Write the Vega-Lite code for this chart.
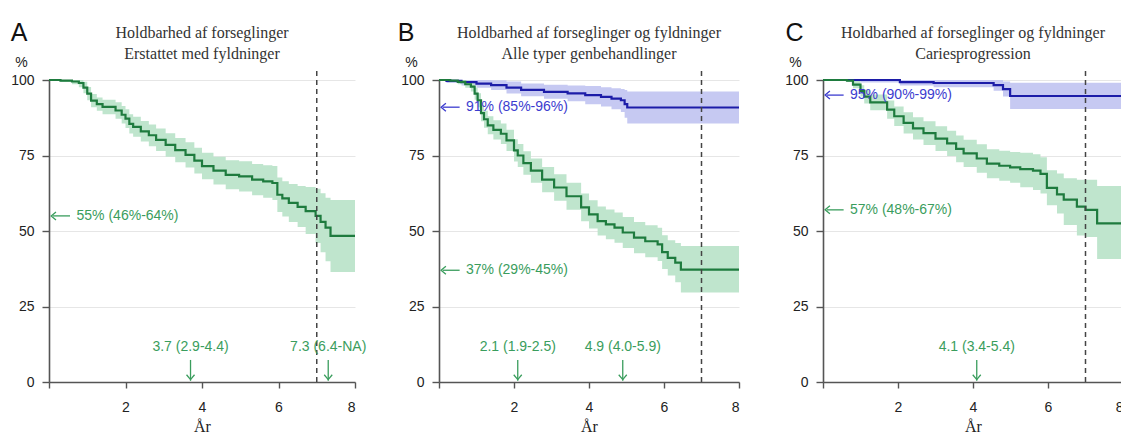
{
  "$schema": "https://vega.github.io/schema/vega-lite/v6.json",
  "padding": {"left": 10, "top": 20, "right": 0, "bottom": 0},
  "background": "white",
  "bounds": "flush",
  "spacing": 84,
  "config": {
    "view": {"stroke": null},
    "axis": {"domainColor": "#555", "domainWidth": 1.6, "tickColor": "#555", "tickWidth": 1.4, "tickSize": 7, "labelFont": "Liberation Sans", "labelFontSize": 14, "labelColor": "#222", "labelPadding": 8, "labelOverlap": false, "titleFont": "Liberation Sans", "titleFontSize": 14, "titleFontWeight": "normal", "titleColor": "#222"},
    "axisX": {"grid": false, "tickSize": 6, "labelPadding": 12, "titleFont": "Liberation Serif", "titleFontSize": 16, "titlePadding": 4},
    "title": {"font": "Liberation Serif", "fontSize": 16, "fontWeight": "normal", "color": "#333", "lineHeight": 21, "offset": -41, "anchor": "middle", "frame": "group"}
  },
  "datasets": {
    "panels": [
      {"p": "A", "letter": "A", "cut": 7},
      {"p": "B", "letter": "B", "cut": 7},
      {"p": "C", "letter": "C", "cut": 7}
    ],
    "left": [
      {"p": "A", "g": "fyld", "s": 55, "label": "55% (46%-64%)"},
      {"p": "B", "g": "fors", "s": 91, "label": "91% (85%-96%)"},
      {"p": "B", "g": "fyld", "s": 37, "label": "37% (29%-45%)"},
      {"p": "C", "g": "fors", "s": 95, "label": "95% (90%-99%)"},
      {"p": "C", "g": "fyld", "s": 57, "label": "57% (48%-67%)"}
    ],
    "med": [
      {"p": "A", "t": 3.7, "label": "3.7 (2.9-4.4)"},
      {"p": "A", "t": 7.3, "label": "7.3 (6.4-NA)"},
      {"p": "B", "t": 2.1, "label": "2.1 (1.9-2.5)"},
      {"p": "B", "t": 4.9, "label": "4.9 (4.0-5.9)"},
      {"p": "C", "t": 4.1, "label": "4.1 (3.4-5.4)"}
    ],
    "km": [
      {"p": "A", "g": "fyld", "t": 0, "s": 100, "lo": 100, "hi": 100},
      {"p": "A", "g": "fyld", "t": 0.3, "s": 99.8, "lo": 99.3, "hi": 100},
      {"p": "A", "g": "fyld", "t": 0.6, "s": 99.5, "lo": 98.6, "hi": 100},
      {"p": "A", "g": "fyld", "t": 0.78, "s": 99, "lo": 97.6, "hi": 100},
      {"p": "A", "g": "fyld", "t": 0.9, "s": 97.5, "lo": 95.6, "hi": 99.4},
      {"p": "A", "g": "fyld", "t": 1.0, "s": 95.5, "lo": 93.3, "hi": 97.7},
      {"p": "A", "g": "fyld", "t": 1.1, "s": 93.2, "lo": 91, "hi": 95.4},
      {"p": "A", "g": "fyld", "t": 1.25, "s": 92, "lo": 89.8, "hi": 94.2},
      {"p": "A", "g": "fyld", "t": 1.4, "s": 91.1, "lo": 88.7, "hi": 93.5},
      {"p": "A", "g": "fyld", "t": 1.74, "s": 89.9, "lo": 87.2, "hi": 92.6},
      {"p": "A", "g": "fyld", "t": 1.9, "s": 88.5, "lo": 85.6, "hi": 91.4},
      {"p": "A", "g": "fyld", "t": 2.0, "s": 87.2, "lo": 84.1, "hi": 90.3},
      {"p": "A", "g": "fyld", "t": 2.1, "s": 85.5, "lo": 82.3, "hi": 88.7},
      {"p": "A", "g": "fyld", "t": 2.2, "s": 84.5, "lo": 81.2, "hi": 87.8},
      {"p": "A", "g": "fyld", "t": 2.4, "s": 83, "lo": 79.6, "hi": 86.4},
      {"p": "A", "g": "fyld", "t": 2.61, "s": 81.7, "lo": 78.1, "hi": 85.3},
      {"p": "A", "g": "fyld", "t": 2.8, "s": 80.2, "lo": 76.5, "hi": 83.9},
      {"p": "A", "g": "fyld", "t": 3.05, "s": 78.5, "lo": 74.6, "hi": 82.4},
      {"p": "A", "g": "fyld", "t": 3.3, "s": 76.8, "lo": 72.8, "hi": 80.8},
      {"p": "A", "g": "fyld", "t": 3.57, "s": 75.2, "lo": 71, "hi": 79.4},
      {"p": "A", "g": "fyld", "t": 3.8, "s": 73.3, "lo": 69, "hi": 77.6},
      {"p": "A", "g": "fyld", "t": 4.0, "s": 71.5, "lo": 67.1, "hi": 75.9},
      {"p": "A", "g": "fyld", "t": 4.3, "s": 70, "lo": 65.4, "hi": 74.6},
      {"p": "A", "g": "fyld", "t": 4.62, "s": 68.6, "lo": 63.8, "hi": 73.4},
      {"p": "A", "g": "fyld", "t": 4.97, "s": 68.1, "lo": 63.1, "hi": 73.1},
      {"p": "A", "g": "fyld", "t": 5.31, "s": 67, "lo": 61.8, "hi": 72.2},
      {"p": "A", "g": "fyld", "t": 5.6, "s": 66.4, "lo": 61, "hi": 71.8},
      {"p": "A", "g": "fyld", "t": 5.84, "s": 65.9, "lo": 60.3, "hi": 71.5},
      {"p": "A", "g": "fyld", "t": 5.97, "s": 62, "lo": 56.3, "hi": 67.7},
      {"p": "A", "g": "fyld", "t": 6.1, "s": 60.8, "lo": 54.8, "hi": 66.5},
      {"p": "A", "g": "fyld", "t": 6.27, "s": 59.3, "lo": 53, "hi": 65.6},
      {"p": "A", "g": "fyld", "t": 6.5, "s": 58, "lo": 51.3, "hi": 64.9},
      {"p": "A", "g": "fyld", "t": 6.71, "s": 56.6, "lo": 49, "hi": 64.6},
      {"p": "A", "g": "fyld", "t": 6.97, "s": 55, "lo": 46, "hi": 64},
      {"p": "A", "g": "fyld", "t": 7.1, "s": 53, "lo": 43, "hi": 62.5},
      {"p": "A", "g": "fyld", "t": 7.23, "s": 51.1, "lo": 40, "hi": 61},
      {"p": "A", "g": "fyld", "t": 7.36, "s": 48.4, "lo": 36.4, "hi": 60.3},
      {"p": "A", "g": "fyld", "t": 8, "s": 48.4, "lo": 36.4, "hi": 60.3},

      {"p": "B", "g": "fors", "t": 0, "s": 100, "lo": 100, "hi": 100},
      {"p": "B", "g": "fors", "t": 0.2, "s": 99.7, "lo": 99, "hi": 100},
      {"p": "B", "g": "fors", "t": 0.6, "s": 99.3, "lo": 98.2, "hi": 100},
      {"p": "B", "g": "fors", "t": 1.0, "s": 98.8, "lo": 97.4, "hi": 100},
      {"p": "B", "g": "fors", "t": 1.39, "s": 98.3, "lo": 96.7, "hi": 99.9},
      {"p": "B", "g": "fors", "t": 1.8, "s": 97.5, "lo": 95.5, "hi": 99.5},
      {"p": "B", "g": "fors", "t": 2.19, "s": 96.7, "lo": 94.6, "hi": 98.8},
      {"p": "B", "g": "fors", "t": 2.8, "s": 96.1, "lo": 93.8, "hi": 98.4},
      {"p": "B", "g": "fors", "t": 3.43, "s": 95.6, "lo": 93, "hi": 98.2},
      {"p": "B", "g": "fors", "t": 3.9, "s": 95, "lo": 92, "hi": 98},
      {"p": "B", "g": "fors", "t": 4.32, "s": 94.4, "lo": 91.2, "hi": 97.6},
      {"p": "B", "g": "fors", "t": 4.6, "s": 93.8, "lo": 90.3, "hi": 97.3},
      {"p": "B", "g": "fors", "t": 4.85, "s": 93.3, "lo": 89.4, "hi": 97},
      {"p": "B", "g": "fors", "t": 4.95, "s": 92, "lo": 87.5, "hi": 96.7},
      {"p": "B", "g": "fors", "t": 5.02, "s": 90.9, "lo": 85.6, "hi": 96.2},
      {"p": "B", "g": "fors", "t": 8, "s": 90.9, "lo": 85.6, "hi": 96.2},

      {"p": "B", "g": "fyld", "t": 0, "s": 100, "lo": 100, "hi": 100},
      {"p": "B", "g": "fyld", "t": 0.3, "s": 99.8, "lo": 99.4, "hi": 100},
      {"p": "B", "g": "fyld", "t": 0.5, "s": 99.4, "lo": 98.6, "hi": 100},
      {"p": "B", "g": "fyld", "t": 0.7, "s": 98.6, "lo": 97.4, "hi": 99.8},
      {"p": "B", "g": "fyld", "t": 0.85, "s": 97.8, "lo": 96.2, "hi": 99.4},
      {"p": "B", "g": "fyld", "t": 0.95, "s": 95.5, "lo": 93.5, "hi": 97.5},
      {"p": "B", "g": "fyld", "t": 1.03, "s": 93.3, "lo": 91, "hi": 95.6},
      {"p": "B", "g": "fyld", "t": 1.12, "s": 89, "lo": 86.3, "hi": 91.7},
      {"p": "B", "g": "fyld", "t": 1.2, "s": 87, "lo": 84.2, "hi": 89.8},
      {"p": "B", "g": "fyld", "t": 1.3, "s": 85, "lo": 82, "hi": 88},
      {"p": "B", "g": "fyld", "t": 1.45, "s": 83.5, "lo": 80.3, "hi": 86.7},
      {"p": "B", "g": "fyld", "t": 1.65, "s": 82.2, "lo": 78.8, "hi": 85.6},
      {"p": "B", "g": "fyld", "t": 1.8, "s": 80, "lo": 76.5, "hi": 83.5},
      {"p": "B", "g": "fyld", "t": 2.0, "s": 76.7, "lo": 73, "hi": 80.4},
      {"p": "B", "g": "fyld", "t": 2.1, "s": 75, "lo": 71.2, "hi": 78.8},
      {"p": "B", "g": "fyld", "t": 2.25, "s": 72.5, "lo": 68.6, "hi": 76.4},
      {"p": "B", "g": "fyld", "t": 2.45, "s": 70, "lo": 66, "hi": 74},
      {"p": "B", "g": "fyld", "t": 2.75, "s": 67, "lo": 62.8, "hi": 71.2},
      {"p": "B", "g": "fyld", "t": 3.07, "s": 64.4, "lo": 60, "hi": 68.8},
      {"p": "B", "g": "fyld", "t": 3.4, "s": 61.5, "lo": 57, "hi": 66},
      {"p": "B", "g": "fyld", "t": 3.79, "s": 57.8, "lo": 53.2, "hi": 62.4},
      {"p": "B", "g": "fyld", "t": 4.0, "s": 55.5, "lo": 50.8, "hi": 60.2},
      {"p": "B", "g": "fyld", "t": 4.23, "s": 53.3, "lo": 48.5, "hi": 58.1},
      {"p": "B", "g": "fyld", "t": 4.45, "s": 52.2, "lo": 47.3, "hi": 57.1},
      {"p": "B", "g": "fyld", "t": 4.68, "s": 51.1, "lo": 46.1, "hi": 56.1},
      {"p": "B", "g": "fyld", "t": 4.9, "s": 49.5, "lo": 44.4, "hi": 54.6},
      {"p": "B", "g": "fyld", "t": 5.2, "s": 47.8, "lo": 42.6, "hi": 53},
      {"p": "B", "g": "fyld", "t": 5.5, "s": 46.6, "lo": 41.3, "hi": 51.9},
      {"p": "B", "g": "fyld", "t": 5.83, "s": 45.6, "lo": 40.1, "hi": 51.1},
      {"p": "B", "g": "fyld", "t": 5.95, "s": 43, "lo": 37.4, "hi": 48.6},
      {"p": "B", "g": "fyld", "t": 6.1, "s": 41.1, "lo": 35.3, "hi": 46.9},
      {"p": "B", "g": "fyld", "t": 6.3, "s": 39.5, "lo": 33, "hi": 46},
      {"p": "B", "g": "fyld", "t": 6.45, "s": 37.2, "lo": 29.6, "hi": 45},
      {"p": "B", "g": "fyld", "t": 8, "s": 37.2, "lo": 29.6, "hi": 45},

      {"p": "C", "g": "fors", "t": 0, "s": 100, "lo": 100, "hi": 100},
      {"p": "C", "g": "fors", "t": 1.0, "s": 100, "lo": 99.2, "hi": 100},
      {"p": "C", "g": "fors", "t": 2.05, "s": 99.3, "lo": 98.2, "hi": 100},
      {"p": "C", "g": "fors", "t": 2.95, "s": 99, "lo": 97.6, "hi": 100},
      {"p": "C", "g": "fors", "t": 4.55, "s": 98.3, "lo": 96.4, "hi": 100},
      {"p": "C", "g": "fors", "t": 4.8, "s": 97, "lo": 94.5, "hi": 99.5},
      {"p": "C", "g": "fors", "t": 4.99, "s": 94.7, "lo": 90.4, "hi": 99.1},
      {"p": "C", "g": "fors", "t": 8, "s": 94.7, "lo": 90.4, "hi": 99.1},

      {"p": "C", "g": "fyld", "t": 0, "s": 100, "lo": 100, "hi": 100},
      {"p": "C", "g": "fyld", "t": 0.64, "s": 99.8, "lo": 99.3, "hi": 100},
      {"p": "C", "g": "fyld", "t": 0.8, "s": 98.5, "lo": 97.3, "hi": 99.7},
      {"p": "C", "g": "fyld", "t": 1.0, "s": 96.4, "lo": 94.5, "hi": 98.3},
      {"p": "C", "g": "fyld", "t": 1.1, "s": 94.5, "lo": 92.2, "hi": 96.8},
      {"p": "C", "g": "fyld", "t": 1.26, "s": 92.6, "lo": 90, "hi": 95.2},
      {"p": "C", "g": "fyld", "t": 1.71, "s": 90.2, "lo": 87.2, "hi": 93.2},
      {"p": "C", "g": "fyld", "t": 1.9, "s": 88, "lo": 84.8, "hi": 91.2},
      {"p": "C", "g": "fyld", "t": 2.15, "s": 85.8, "lo": 82.3, "hi": 89.3},
      {"p": "C", "g": "fyld", "t": 2.4, "s": 84, "lo": 80.3, "hi": 87.7},
      {"p": "C", "g": "fyld", "t": 2.68, "s": 82.4, "lo": 78.5, "hi": 86.3},
      {"p": "C", "g": "fyld", "t": 3.0, "s": 80.6, "lo": 76.5, "hi": 84.7},
      {"p": "C", "g": "fyld", "t": 3.31, "s": 79, "lo": 74.8, "hi": 83.2},
      {"p": "C", "g": "fyld", "t": 3.55, "s": 77.2, "lo": 72.8, "hi": 81.6},
      {"p": "C", "g": "fyld", "t": 3.75, "s": 75.7, "lo": 71.2, "hi": 80.2},
      {"p": "C", "g": "fyld", "t": 4.1, "s": 74, "lo": 69.3, "hi": 78.7},
      {"p": "C", "g": "fyld", "t": 4.37, "s": 72.3, "lo": 67.5, "hi": 77.1},
      {"p": "C", "g": "fyld", "t": 4.7, "s": 71.6, "lo": 66.6, "hi": 76.6},
      {"p": "C", "g": "fyld", "t": 4.99, "s": 71.1, "lo": 66, "hi": 76.2},
      {"p": "C", "g": "fyld", "t": 5.26, "s": 70.5, "lo": 64.5, "hi": 75.9},
      {"p": "C", "g": "fyld", "t": 5.6, "s": 70, "lo": 63.6, "hi": 75.4},
      {"p": "C", "g": "fyld", "t": 5.8, "s": 68.9, "lo": 62.4, "hi": 74.4},
      {"p": "C", "g": "fyld", "t": 5.97, "s": 64.3, "lo": 58.5, "hi": 70.1},
      {"p": "C", "g": "fyld", "t": 6.24, "s": 62.1, "lo": 55.8, "hi": 69},
      {"p": "C", "g": "fyld", "t": 6.42, "s": 60.4, "lo": 52, "hi": 67.5},
      {"p": "C", "g": "fyld", "t": 6.77, "s": 58.1, "lo": 48.5, "hi": 67},
      {"p": "C", "g": "fyld", "t": 7.0, "s": 57, "lo": 48, "hi": 67},
      {"p": "C", "g": "fyld", "t": 7.31, "s": 52.5, "lo": 40.7, "hi": 64.9},
      {"p": "C", "g": "fyld", "t": 8, "s": 52.5, "lo": 40.7, "hi": 64.9}
    ]
  },
  "hconcat": [
    {
      "width": 306, "height": 302,
      "title": {"text": ["Holdbarhed af forseglinger", "Erstattet med fyldninger"]},
      "layer": [
        {"data": {"name": "km"}, "transform": [{"filter": "datum.p === 'A'"}],
         "mark": {"type": "area", "interpolate": "step-after"},
         "encoding": {
           "x": {"field": "t", "type": "quantitative", "scale": {"domain": [0, 8], "nice": false}, "axis": {"title": "År", "values": [0, 1, 2, 3, 4, 5, 6, 7, 8], "labelExpr": "datum.value % 2 === 0 && datum.value > 0 ? datum.label : ''"}},
           "y": {"field": "lo", "type": "quantitative", "scale": {"domain": [0, 100], "nice": false}, "axis": {"title": "%", "values": [0, 25, 50, 75, 100], "grid": true, "gridColor": "#e6e6e6", "titleAngle": 0, "titleX": -28, "titleY": -18, "titleAlign": "center", "titleBaseline": "middle"}},
           "y2": {"field": "hi"},
           "fill": {"field": "g", "type": "nominal", "scale": {"domain": ["fors", "fyld"], "range": ["#c6c9f2", "#bfe5cd"]}, "legend": null}
         }},
        {"data": {"name": "km"}, "transform": [{"filter": "datum.p === 'A'"}],
         "mark": {"type": "line", "interpolate": "step-after", "strokeWidth": 2.2},
         "encoding": {
           "x": {"field": "t", "type": "quantitative"},
           "y": {"field": "s", "type": "quantitative"},
           "stroke": {"field": "g", "type": "nominal", "scale": {"domain": ["fors", "fyld"], "range": ["#1c1ca8", "#1e7b3e"]}, "legend": null}
         }},
        {"data": {"name": "panels"}, "transform": [{"filter": "datum.p === 'A'"}],
         "mark": {"type": "rule", "strokeDash": [5, 4], "strokeWidth": 1.5, "color": "#444"},
         "encoding": {"x": {"field": "cut", "type": "quantitative"}, "y": {"datum": 0}, "y2": {"datum": 104}}},
        {"data": {"name": "left"}, "transform": [{"filter": "datum.p === 'A'"}],
         "mark": {"type": "rule", "strokeWidth": 1.3},
         "encoding": {"x": {"datum": 0.1}, "x2": {"datum": 0.55}, "y": {"field": "s", "type": "quantitative"},
           "color": {"field": "g", "type": "nominal", "scale": {"domain": ["fors", "fyld"], "range": ["#3c3ccf", "#3a9d5d"]}, "legend": null}}},
        {"data": {"name": "left"}, "transform": [{"filter": "datum.p === 'A'"}],
         "mark": {"type": "point", "shape": "M0.6,-1L-0.6,0L0.6,1", "filled": false, "size": 64, "strokeWidth": 1.3, "opacity": 1},
         "encoding": {"x": {"datum": 0.12}, "y": {"field": "s", "type": "quantitative"},
           "color": {"field": "g", "type": "nominal", "legend": null}}},
        {"data": {"name": "left"}, "transform": [{"filter": "datum.p === 'A'"}],
         "mark": {"type": "text", "align": "left", "baseline": "middle", "font": "Liberation Sans", "fontSize": 14},
         "encoding": {"x": {"datum": 0.72}, "y": {"field": "s", "type": "quantitative"}, "text": {"field": "label"},
           "color": {"field": "g", "type": "nominal", "legend": null}}},
        {"data": {"name": "med"}, "transform": [{"filter": "datum.p === 'A'"}],
         "mark": {"type": "rule", "strokeWidth": 1.3, "color": "#3a9d5d"},
         "encoding": {"x": {"field": "t", "type": "quantitative"}, "y": {"datum": 0.4}, "y2": {"datum": 7.3}}},
        {"data": {"name": "med"}, "transform": [{"filter": "datum.p === 'A'"}],
         "mark": {"type": "point", "shape": "M-1,-0.6L0,0.6L1,-0.6", "filled": false, "size": 64, "strokeWidth": 1.3, "color": "#3a9d5d", "opacity": 1},
         "encoding": {"x": {"field": "t", "type": "quantitative"}, "y": {"datum": 1.6}}},
        {"data": {"name": "med"}, "transform": [{"filter": "datum.p === 'A'"}],
         "mark": {"type": "text", "align": "center", "baseline": "middle", "font": "Liberation Sans", "fontSize": 14, "color": "#3a9d5d"},
         "encoding": {"x": {"field": "t", "type": "quantitative"}, "y": {"datum": 11.5}, "text": {"field": "label"}}},
        {"data": {"name": "panels"}, "transform": [{"filter": "datum.p === 'A'"}],
         "mark": {"type": "text", "align": "left", "baseline": "alphabetic", "font": "Liberation Sans", "fontSize": 25, "color": "#111"},
         "encoding": {"x": {"datum": -1}, "y": {"datum": 113}, "text": {"field": "letter"}}}
      ]
    },
    {
      "width": 300, "height": 302,
      "title": {"text": ["Holdbarhed af forseglinger og fyldninger", "Alle typer genbehandlinger"]},
      "layer": [
        {"data": {"name": "km"}, "transform": [{"filter": "datum.p === 'B'"}],
         "mark": {"type": "area", "interpolate": "step-after"},
         "encoding": {
           "x": {"field": "t", "type": "quantitative", "scale": {"domain": [0, 8], "nice": false}, "axis": {"title": "År", "values": [0, 1, 2, 3, 4, 5, 6, 7, 8], "labelExpr": "datum.value % 2 === 0 && datum.value > 0 ? datum.label : ''"}},
           "y": {"field": "lo", "type": "quantitative", "scale": {"domain": [0, 100], "nice": false}, "axis": {"title": "%", "values": [0, 25, 50, 75, 100], "grid": true, "gridColor": "#e6e6e6", "titleAngle": 0, "titleX": -28, "titleY": -18, "titleAlign": "center", "titleBaseline": "middle"}},
           "y2": {"field": "hi"},
           "fill": {"field": "g", "type": "nominal", "scale": {"domain": ["fors", "fyld"], "range": ["#c6c9f2", "#bfe5cd"]}, "legend": null}
         }},
        {"data": {"name": "km"}, "transform": [{"filter": "datum.p === 'B'"}],
         "mark": {"type": "line", "interpolate": "step-after", "strokeWidth": 2.2},
         "encoding": {
           "x": {"field": "t", "type": "quantitative"},
           "y": {"field": "s", "type": "quantitative"},
           "stroke": {"field": "g", "type": "nominal", "scale": {"domain": ["fors", "fyld"], "range": ["#1c1ca8", "#1e7b3e"]}, "legend": null}
         }},
        {"data": {"name": "panels"}, "transform": [{"filter": "datum.p === 'B'"}],
         "mark": {"type": "rule", "strokeDash": [5, 4], "strokeWidth": 1.5, "color": "#444"},
         "encoding": {"x": {"field": "cut", "type": "quantitative"}, "y": {"datum": 0}, "y2": {"datum": 104}}},
        {"data": {"name": "left"}, "transform": [{"filter": "datum.p === 'B'"}],
         "mark": {"type": "rule", "strokeWidth": 1.3},
         "encoding": {"x": {"datum": 0.1}, "x2": {"datum": 0.55}, "y": {"field": "s", "type": "quantitative"},
           "color": {"field": "g", "type": "nominal", "scale": {"domain": ["fors", "fyld"], "range": ["#3c3ccf", "#3a9d5d"]}, "legend": null}}},
        {"data": {"name": "left"}, "transform": [{"filter": "datum.p === 'B'"}],
         "mark": {"type": "point", "shape": "M0.6,-1L-0.6,0L0.6,1", "filled": false, "size": 64, "strokeWidth": 1.3, "opacity": 1},
         "encoding": {"x": {"datum": 0.12}, "y": {"field": "s", "type": "quantitative"},
           "color": {"field": "g", "type": "nominal", "legend": null}}},
        {"data": {"name": "left"}, "transform": [{"filter": "datum.p === 'B'"}],
         "mark": {"type": "text", "align": "left", "baseline": "middle", "font": "Liberation Sans", "fontSize": 14},
         "encoding": {"x": {"datum": 0.72}, "y": {"field": "s", "type": "quantitative"}, "text": {"field": "label"},
           "color": {"field": "g", "type": "nominal", "legend": null}}},
        {"data": {"name": "med"}, "transform": [{"filter": "datum.p === 'B'"}],
         "mark": {"type": "rule", "strokeWidth": 1.3, "color": "#3a9d5d"},
         "encoding": {"x": {"field": "t", "type": "quantitative"}, "y": {"datum": 0.4}, "y2": {"datum": 7.3}}},
        {"data": {"name": "med"}, "transform": [{"filter": "datum.p === 'B'"}],
         "mark": {"type": "point", "shape": "M-1,-0.6L0,0.6L1,-0.6", "filled": false, "size": 64, "strokeWidth": 1.3, "color": "#3a9d5d", "opacity": 1},
         "encoding": {"x": {"field": "t", "type": "quantitative"}, "y": {"datum": 1.6}}},
        {"data": {"name": "med"}, "transform": [{"filter": "datum.p === 'B'"}],
         "mark": {"type": "text", "align": "center", "baseline": "middle", "font": "Liberation Sans", "fontSize": 14, "color": "#3a9d5d"},
         "encoding": {"x": {"field": "t", "type": "quantitative"}, "y": {"datum": 11.5}, "text": {"field": "label"}}},
        {"data": {"name": "panels"}, "transform": [{"filter": "datum.p === 'B'"}],
         "mark": {"type": "text", "align": "left", "baseline": "alphabetic", "font": "Liberation Sans", "fontSize": 25, "color": "#111"},
         "encoding": {"x": {"datum": -1.1}, "y": {"datum": 113}, "text": {"field": "letter"}}}
      ]
    },
    {
      "width": 300, "height": 302,
      "title": {"text": ["Holdbarhed af forseglinger og fyldninger", "Cariesprogression"]},
      "layer": [
        {"data": {"name": "km"}, "transform": [{"filter": "datum.p === 'C'"}],
         "mark": {"type": "area", "interpolate": "step-after"},
         "encoding": {
           "x": {"field": "t", "type": "quantitative", "scale": {"domain": [0, 8], "nice": false}, "axis": {"title": "År", "values": [0, 1, 2, 3, 4, 5, 6, 7, 8], "labelExpr": "datum.value % 2 === 0 && datum.value > 0 ? datum.label : ''"}},
           "y": {"field": "lo", "type": "quantitative", "scale": {"domain": [0, 100], "nice": false}, "axis": {"title": "%", "values": [0, 25, 50, 75, 100], "grid": true, "gridColor": "#e6e6e6", "titleAngle": 0, "titleX": -28, "titleY": -18, "titleAlign": "center", "titleBaseline": "middle"}},
           "y2": {"field": "hi"},
           "fill": {"field": "g", "type": "nominal", "scale": {"domain": ["fors", "fyld"], "range": ["#c6c9f2", "#bfe5cd"]}, "legend": null}
         }},
        {"data": {"name": "km"}, "transform": [{"filter": "datum.p === 'C'"}],
         "mark": {"type": "line", "interpolate": "step-after", "strokeWidth": 2.2},
         "encoding": {
           "x": {"field": "t", "type": "quantitative"},
           "y": {"field": "s", "type": "quantitative"},
           "stroke": {"field": "g", "type": "nominal", "scale": {"domain": ["fors", "fyld"], "range": ["#1c1ca8", "#1e7b3e"]}, "legend": null}
         }},
        {"data": {"name": "panels"}, "transform": [{"filter": "datum.p === 'C'"}],
         "mark": {"type": "rule", "strokeDash": [5, 4], "strokeWidth": 1.5, "color": "#444"},
         "encoding": {"x": {"field": "cut", "type": "quantitative"}, "y": {"datum": 0}, "y2": {"datum": 104}}},
        {"data": {"name": "left"}, "transform": [{"filter": "datum.p === 'C'"}],
         "mark": {"type": "rule", "strokeWidth": 1.3},
         "encoding": {"x": {"datum": 0.1}, "x2": {"datum": 0.55}, "y": {"field": "s", "type": "quantitative"},
           "color": {"field": "g", "type": "nominal", "scale": {"domain": ["fors", "fyld"], "range": ["#3c3ccf", "#3a9d5d"]}, "legend": null}}},
        {"data": {"name": "left"}, "transform": [{"filter": "datum.p === 'C'"}],
         "mark": {"type": "point", "shape": "M0.6,-1L-0.6,0L0.6,1", "filled": false, "size": 64, "strokeWidth": 1.3, "opacity": 1},
         "encoding": {"x": {"datum": 0.12}, "y": {"field": "s", "type": "quantitative"},
           "color": {"field": "g", "type": "nominal", "legend": null}}},
        {"data": {"name": "left"}, "transform": [{"filter": "datum.p === 'C'"}],
         "mark": {"type": "text", "align": "left", "baseline": "middle", "font": "Liberation Sans", "fontSize": 14},
         "encoding": {"x": {"datum": 0.72}, "y": {"field": "s", "type": "quantitative"}, "text": {"field": "label"},
           "color": {"field": "g", "type": "nominal", "legend": null}}},
        {"data": {"name": "med"}, "transform": [{"filter": "datum.p === 'C'"}],
         "mark": {"type": "rule", "strokeWidth": 1.3, "color": "#3a9d5d"},
         "encoding": {"x": {"field": "t", "type": "quantitative"}, "y": {"datum": 0.4}, "y2": {"datum": 7.3}}},
        {"data": {"name": "med"}, "transform": [{"filter": "datum.p === 'C'"}],
         "mark": {"type": "point", "shape": "M-1,-0.6L0,0.6L1,-0.6", "filled": false, "size": 64, "strokeWidth": 1.3, "color": "#3a9d5d", "opacity": 1},
         "encoding": {"x": {"field": "t", "type": "quantitative"}, "y": {"datum": 1.6}}},
        {"data": {"name": "med"}, "transform": [{"filter": "datum.p === 'C'"}],
         "mark": {"type": "text", "align": "center", "baseline": "middle", "font": "Liberation Sans", "fontSize": 14, "color": "#3a9d5d"},
         "encoding": {"x": {"field": "t", "type": "quantitative"}, "y": {"datum": 11.5}, "text": {"field": "label"}}},
        {"data": {"name": "panels"}, "transform": [{"filter": "datum.p === 'C'"}],
         "mark": {"type": "text", "align": "left", "baseline": "alphabetic", "font": "Liberation Sans", "fontSize": 25, "color": "#111"},
         "encoding": {"x": {"datum": -1}, "y": {"datum": 113}, "text": {"field": "letter"}}}
      ]
    }
  ]
}
